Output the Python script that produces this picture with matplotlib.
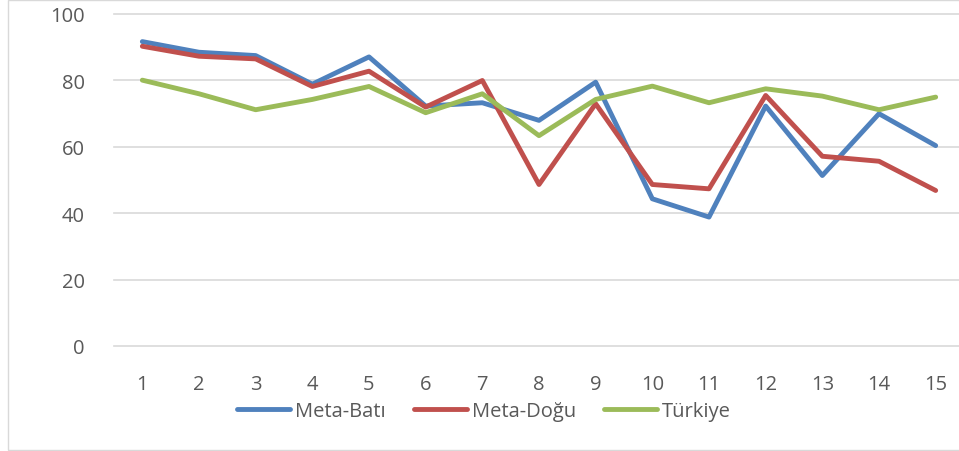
import matplotlib
matplotlib.use("Agg")
import matplotlib.pyplot as plt
from matplotlib.patches import Rectangle

x_labels = [str(i) for i in range(1, 16)]
meta_bati = [91.6, 88.4, 87.4, 78.8, 87.0, 72.2, 73.2, 67.9, 79.4, 44.3, 38.8, 72.2, 51.3, 69.9, 60.3]
meta_dogu = [90.2, 87.2, 86.4, 78.1, 82.7, 71.9, 79.9, 48.6, 72.9, 48.6, 47.3, 75.4, 57.1, 55.6, 46.8]
turkiye = [80.0, 75.9, 71.1, 74.2, 78.1, 70.2, 75.9, 63.3, 74.2, 78.2, 73.2, 77.4, 75.2, 71.1, 74.9]
series_names = ["Meta-Batı", "Meta-Doğu", "Türkiye"]
y_ticks = [0, 20, 40, 60, 80, 100]

plt.rcParams['font.family'] = ['Open Sans', 'DejaVu Sans']

W, H = 959, 452
fig = plt.figure(figsize=(W / 100, H / 100), dpi=100)
fig.patches.append(Rectangle((8 / W, 1 / H), 1.2, 450 / H, transform=fig.transFigure,
                             fill=False, edgecolor='#D9D9D9', linewidth=1))

ax = fig.add_axes([114 / W, 105 / H, (964 - 114) / W, (347 - 14.7) / H])
xs = list(range(1, 16))
colors = ['#4F81BD', '#C0504D', '#9BBB59']
for vals, name, c in zip([meta_bati, meta_dogu, turkiye], series_names, colors):
    ax.plot(xs, vals, color=c, linewidth=3.5, label=name, solid_capstyle='round', solid_joinstyle='round')

ax.set_xlim(0.5, 15.5)
ax.set_ylim(0, 100)
ax.set_yticks(y_ticks)
ax.set_xticks(xs)
ax.set_xticklabels(x_labels)
ax.grid(axis='y', color='#D9D9D9', linewidth=1.2)
for gl in ax.get_ygridlines():
    gl.set_clip_on(False)
ax.set_axisbelow(True)
for s in ax.spines.values():
    s.set_visible(False)
ax.tick_params(axis='both', length=0, labelsize=14.5, colors='#595959')
ax.tick_params(axis='y', pad=21)
ax.tick_params(axis='x', pad=20)

leg = ax.legend(loc='center', bbox_to_anchor=(484 / W, (452 - 412) / H), bbox_transform=fig.transFigure,
                ncol=3, frameon=False, fontsize=14.5, handlelength=2.63, handletextpad=0.25,
                columnspacing=1.4, labelcolor='#595959', borderpad=0, borderaxespad=0)

fig.savefig('out.png', dpi=100)
